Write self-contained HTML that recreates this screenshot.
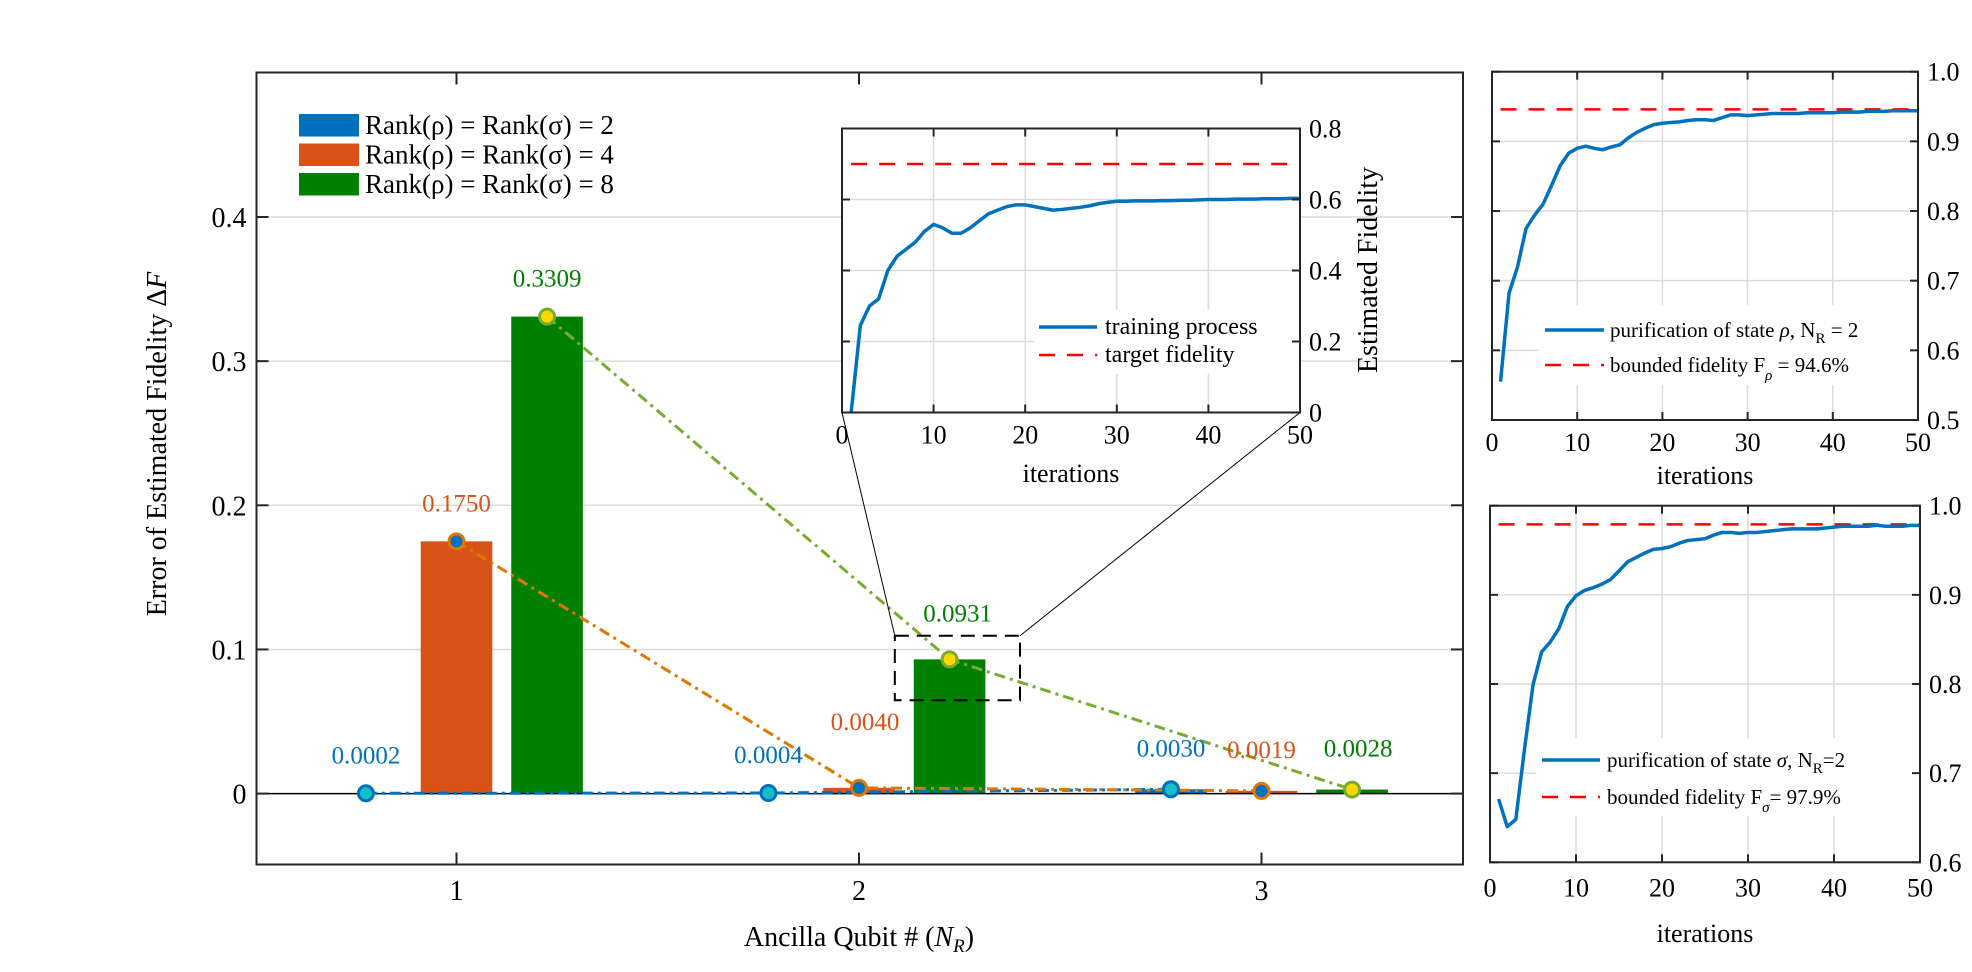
<!DOCTYPE html>
<html><head><meta charset="utf-8"><style>
html,body{margin:0;padding:0;background:#fff;}
svg{display:block;font-family:"Liberation Serif","DejaVu Serif",serif;}
</style></head><body>
<svg id="fig" width="1972" height="972" viewBox="0 0 1972 972" xmlns="http://www.w3.org/2000/svg"></svg>
<script>
// ---------- main chart data ----------
const groups = [1, 2, 3];
const seriesNames = ['Rank(ρ) = Rank(σ) = 2', 'Rank(ρ) = Rank(σ) = 4', 'Rank(ρ) = Rank(σ) = 8'];
const rank2Values = [0.0002, 0.0004, 0.0030];
const rank4Values = [0.1750, 0.0040, 0.0019];
const rank8Values = [0.3309, 0.0931, 0.0028];
const rank2Labels = ['0.0002', '0.0004', '0.0030'];
const rank4Labels = ['0.1750', '0.0040', '0.0019'];
const rank8Labels = ['0.3309', '0.0931', '0.0028'];
const mainYTicks = [0, 0.1, 0.2, 0.3, 0.4];
const mainYTickLabels = ['0', '0.1', '0.2', '0.3', '0.4'];
// ---------- inset (training) ----------
const insetFid = [0,0.245,0.30,0.32,0.40,0.44,0.46,0.48,0.51,0.53,0.52,0.505,0.505,0.52,0.54,0.56,0.57,0.58,0.585,0.585,0.58,0.575,0.57,0.572,0.575,0.578,0.582,0.588,0.592,0.595,0.595,0.596,0.596,0.596,0.597,0.597,0.598,0.598,0.599,0.60,0.60,0.60,0.601,0.601,0.601,0.602,0.602,0.602,0.603,0.603];
const insetTarget = 0.7;
const insetYTicks = [0, 0.2, 0.4, 0.6, 0.8];
const iterTicks = [0, 10, 20, 30, 40, 50];
// ---------- right panels ----------
const rhoFid = [0.555,0.682,0.72,0.775,0.794,0.81,0.837,0.865,0.883,0.89,0.893,0.89,0.888,0.892,0.895,0.905,0.913,0.919,0.924,0.926,0.927,0.928,0.930,0.931,0.931,0.930,0.934,0.938,0.938,0.937,0.938,0.939,0.940,0.940,0.940,0.940,0.941,0.941,0.941,0.941,0.942,0.942,0.942,0.943,0.943,0.943,0.944,0.944,0.944,0.944];
const rhoBound = 0.946;
const rhoYTicks = [0.5, 0.6, 0.7, 0.8, 0.9, 1.0];
const sigmaFid = [0.671,0.640,0.648,0.726,0.799,0.836,0.847,0.862,0.887,0.899,0.905,0.908,0.912,0.917,0.927,0.937,0.942,0.947,0.951,0.952,0.954,0.958,0.961,0.962,0.963,0.967,0.970,0.970,0.969,0.970,0.970,0.971,0.972,0.973,0.974,0.974,0.974,0.974,0.975,0.976,0.977,0.977,0.977,0.977,0.978,0.977,0.977,0.977,0.978,0.978];
const sigmaBound = 0.979;
const sigmaYTicks = [0.6, 0.7, 0.8, 0.9, 1.0];

const NS = 'http://www.w3.org/2000/svg';
const svg = document.getElementById('fig');
function mk(tag, attrs, parent, text) {
  const e = document.createElementNS(NS, tag);
  for (const k in attrs) e.setAttribute(k, attrs[k]);
  if (text !== undefined) e.textContent = text;
  (parent || svg).appendChild(e);
  return e;
}
function grp(name, parent) {
  const g = mk('g', {}, parent);
  
  
  return g;
}
const AX = '#262626', GRID = '#dcdcdc';
const BLUE = '#0072bd', ORANGE = '#d95319', GREEN = '#008000';

// ================= MAIN AXES =================
const mL = 256.5, mR = 1463, mT = 72.5, mB = 864.5;
const mX = v => 456.5 + (v - 1) * 402.5;
const mY = v => 793.6 - v * 1441.5;
const mainG = grp('main-chart');
const gridG = grp('main-gridlines', mainG);
mainYTicks.forEach(t => { if (t > 0) mk('line', {x1: mL, x2: mR, y1: mY(t), y2: mY(t), stroke: GRID, 'stroke-width': 1.5}, gridG); });

const barW = 71.6;
const offs = [-0.225, 0, 0.225];
const allVals = [rank2Values, rank4Values, rank8Values];
const barCols = [BLUE, ORANGE, GREEN];
const barsG = grp('bars', mainG);
allVals.forEach((vals, s) => {
  vals.forEach((v, i) => {
    const cx = mX(groups[i] + offs[s]);
    const r = mk('rect', {x: cx - barW / 2, y: mY(v), width: barW, height: Math.max(mY(0) - mY(v), 0.5), fill: barCols[s]}, barsG);
    
    
  });
});
mk('line', {x1: mL, x2: mR, y1: mY(0), y2: mY(0), stroke: '#000', 'stroke-width': 1.5}, mainG);

const lineCols = [BLUE, '#e07800', '#77ac30'];
const mFill = ['#17bec8', BLUE, '#ffd700'];
const mEdge = [BLUE, '#e07800', '#77ac30'];
const linesG = grp('trend-lines', mainG);
allVals.forEach((vals, s) => {
  const pts = vals.map((v, i) => mX(groups[i] + offs[s]) + ',' + mY(v)).join(' ');
  const pl = mk('polyline', {points: pts, fill: 'none', stroke: lineCols[s], 'stroke-width': 3, 'stroke-dasharray': '11,5,3,5'}, linesG);
  
  
});
const zb = grp('zoom-box', mainG);
const bx1 = mX(2.089), bx2 = mX(2.40), by1 = mY(0.1095), by2 = mY(0.0648);
mk('rect', {x: bx1, y: by1, width: bx2 - bx1, height: by2 - by1, fill: 'none', stroke: '#000', 'stroke-width': 2, 'stroke-dasharray': '14,8'}, zb);
mk('line', {x1: bx1, y1: by1, x2: 842, y2: 412.5, stroke: '#000', 'stroke-width': 1}, zb);
mk('line', {x1: bx2, y1: by1, x2: 1300, y2: 412.5, stroke: '#000', 'stroke-width': 1}, zb);

const markG = grp('markers', mainG);
allVals.forEach((vals, s) => {
  vals.forEach((v, i) => {
    const c = mk('circle', {cx: mX(groups[i] + offs[s]), cy: mY(v), r: 7.5, fill: mFill[s], stroke: mEdge[s], 'stroke-width': 3}, markG);
    
    
  });
});
const allLabels = [rank2Labels, rank4Labels, rank8Labels];
const labCols = [BLUE, ORANGE, GREEN];
const labelG = grp('value-labels', mainG);
allVals.forEach((vals, s) => {
  vals.forEach((v, i) => {
    let dy = 30;
    if (s === 1 && i === 1) dy = 58;
    if (s === 2 && i === 1) dy = 38;
    if (i === 2) dy = 33;
    let cx = mX(groups[i] + offs[s]);
    if (s === 1 && i === 1) cx += 6;
    if (s === 2 && i === 1) cx += 8;
    if (s === 2 && i === 2) cx += 6;
    const t = mk('text', {x: cx, y: mY(v) - dy, 'text-anchor': 'middle', 'font-size': 25, fill: labCols[s]}, labelG, allLabels[s][i]);
    
    
  });
});

mk('rect', {x: mL, y: mT, width: mR - mL, height: mB - mT, fill: 'none', stroke: AX, 'stroke-width': 2}, mainG);
const tickG = grp('main-ticks', mainG);
groups.forEach(g => {
  mk('line', {x1: mX(g), x2: mX(g), y1: mB, y2: mB - 12, stroke: AX, 'stroke-width': 2}, tickG);
  mk('line', {x1: mX(g), x2: mX(g), y1: mT, y2: mT + 12, stroke: AX, 'stroke-width': 2}, tickG);
  const t = mk('text', {x: mX(g), y: 900, 'text-anchor': 'middle', 'font-size': 28, fill: '#000'}, tickG, String(g));
  
  
});
mainYTicks.forEach((tv, i) => {
  mk('line', {x1: mL, x2: mL + 12, y1: mY(tv), y2: mY(tv), stroke: AX, 'stroke-width': 2}, tickG);
  mk('line', {x1: mR, x2: mR - 12, y1: mY(tv), y2: mY(tv), stroke: AX, 'stroke-width': 2}, tickG);
  const t = mk('text', {x: mL - 10, y: mY(tv) + 10, 'text-anchor': 'end', 'font-size': 28, fill: '#000'}, tickG, mainYTickLabels[i]);
  
  
});
const xl = mk('text', {x: 859, y: 946, 'text-anchor': 'middle', 'font-size': 28, fill: '#000'}, mainG);


xl.innerHTML = 'Ancilla Qubit # (<tspan font-style="italic">N</tspan><tspan font-style="italic" font-size="19" dy="6">R</tspan><tspan dy="-6">)</tspan>';
const yl = mk('text', {x: 0, y: 0, transform: 'translate(166,444) rotate(-90)', 'text-anchor': 'middle', 'font-size': 28, fill: '#000'}, mainG);


yl.innerHTML = 'Error of Estimated Fidelity Δ<tspan font-style="italic">F</tspan>';

const legG = grp('legend', mainG);
seriesNames.forEach((n, i) => {
  const y = 114 + i * 29.5;
  const e = grp('legend-entry', legG);
  mk('rect', {x: 299, y: y, width: 60, height: 22.5, fill: barCols[i]}, e);
  mk('text', {x: 365, y: y + 20, 'font-size': 27, fill: '#000'}, e, n);
});

// ================= PANELS =================
function panel(opts) {
  const g = grp(opts.name);
  const {L, R, T, B, y0, y1, data, target, yTicks, yLabels} = opts;
  const X = v => L + v / 50 * (R - L);
  const Y = v => B - (v - y0) / (y1 - y0) * (B - T);
  mk('rect', {x: L, y: T, width: R - L, height: B - T, fill: '#fff'}, g);
  const gg = grp(opts.name + '-gridlines', g);
  iterTicks.forEach(t => { if (t > 0 && t < 50) mk('line', {x1: X(t), x2: X(t), y1: T, y2: B, stroke: GRID, 'stroke-width': 1.5}, gg); });
  yTicks.forEach(t => { if (t > y0 && t < y1) mk('line', {x1: L, x2: R, y1: Y(t), y2: Y(t), stroke: GRID, 'stroke-width': 1.5}, gg); });
  const tl = mk('line', {x1: X(1), x2: R, y1: Y(target), y2: Y(target), stroke: '#ff0000', 'stroke-width': 2.5, 'stroke-dasharray': '16,12'}, g);
  
  
  const pts = data.map((v, i) => X(i + 1) + ',' + Y(Math.max(v, y0))).join(' ');
  const pl = mk('polyline', {points: pts, fill: 'none', stroke: BLUE, 'stroke-width': 3.5, 'stroke-linejoin': 'round'}, g);
  
  
  const lg = grp(opts.name + '-legend', g);
  const [lx, ly, lw, lh] = opts.legBox;
  mk('rect', {x: lx, y: ly, width: lw, height: lh, fill: '#fff'}, lg);
  const e1 = grp('legend-entry', lg);
  mk('line', {x1: opts.legLine[0], x2: opts.legLine[1], y1: opts.legRows[0], y2: opts.legRows[0], stroke: BLUE, 'stroke-width': 3.5}, e1);
  const t1 = mk('text', {x: opts.legText, y: opts.legRows[0] + 7, 'font-size': opts.legFont, fill: '#000'}, e1);
  t1.innerHTML = opts.leg1;
  const e2 = grp('legend-entry', lg);
  mk('line', {x1: opts.legLine[0], x2: opts.legLine[1], y1: opts.legRows[1], y2: opts.legRows[1], stroke: '#ff0000', 'stroke-width': 2.5, 'stroke-dasharray': '16,12'}, e2);
  const t2 = mk('text', {x: opts.legText, y: opts.legRows[1] + 7, 'font-size': opts.legFont, fill: '#000'}, e2);
  t2.innerHTML = opts.leg2;
  mk('rect', {x: L, y: T, width: R - L, height: B - T, fill: 'none', stroke: AX, 'stroke-width': 2}, g);
  iterTicks.forEach(t => {
    mk('line', {x1: X(t), x2: X(t), y1: B, y2: B - 8, stroke: AX, 'stroke-width': 2}, g);
    mk('line', {x1: X(t), x2: X(t), y1: T, y2: T + 8, stroke: AX, 'stroke-width': 2}, g);
    const tt = mk('text', {x: X(t), y: B + opts.xTickDy, 'text-anchor': 'middle', 'font-size': 26, fill: '#000'}, g, String(t));
    
    
  });
  yTicks.forEach((t, i) => {
    mk('line', {x1: L, x2: L + 8, y1: Y(t), y2: Y(t), stroke: AX, 'stroke-width': 2}, g);
    mk('line', {x1: R, x2: R - 8, y1: Y(t), y2: Y(t), stroke: AX, 'stroke-width': 2}, g);
    const tt = mk('text', {x: R + 9, y: Y(t) + 9, 'font-size': 26, fill: '#000'}, g, yLabels[i]);
    
    
  });
  const xt = mk('text', {x: (L + R) / 2, y: opts.xTitleY, 'text-anchor': 'middle', 'font-size': 26, fill: '#000'}, g, 'iterations');
  
  
  return g;
}

panel({name: 'inset-training', L: 842, R: 1300, T: 128.5, B: 412.5, y0: 0, y1: 0.8, data: insetFid, target: insetTarget,
  yTicks: insetYTicks, yLabels: ['0', '0.2', '0.4', '0.6', '0.8'], xTickDy: 31, xTitleY: 482,
  legBox: [1034, 310, 262, 64], legLine: [1039, 1097], legRows: [327, 355], legText: 1105, legFont: 24,
  leg1: 'training process', leg2: 'target fidelity'});
const ef = mk('text', {x: 0, y: 0, transform: 'translate(1377,270) rotate(-90)', 'text-anchor': 'middle', 'font-size': 28, fill: '#000'}, svg, 'Estimated Fidelity');



panel({name: 'panel-rho', L: 1492, R: 1918, T: 71.7, B: 420, y0: 0.5, y1: 1.0, data: rhoFid, target: rhoBound,
  yTicks: rhoYTicks, yLabels: ['0.5', '0.6', '0.7', '0.8', '0.9', '1.0'], xTickDy: 31, xTitleY: 484,
  legBox: [1538, 305, 372, 80], legLine: [1545, 1604], legRows: [330, 365], legText: 1610, legFont: 21,
  leg1: 'purification of state <tspan font-style="italic">ρ</tspan>, N<tspan font-size="15" dy="6">R</tspan><tspan dy="-6"> = 2</tspan>',
  leg2: 'bounded fidelity F<tspan font-size="15" font-style="italic" dy="8">ρ</tspan><tspan dy="-8"> = 94.6%</tspan>'});

panel({name: 'panel-sigma', L: 1490, R: 1920, T: 505.7, B: 862.3, y0: 0.6, y1: 1.0, data: sigmaFid, target: sigmaBound,
  yTicks: sigmaYTicks, yLabels: ['0.6', '0.7', '0.8', '0.9', '1.0'], xTickDy: 34, xTitleY: 942,
  legBox: [1536, 738, 380, 78], legLine: [1542, 1600], legRows: [760, 797], legText: 1607, legFont: 21,
  leg1: 'purification of state <tspan font-style="italic">σ</tspan>, N<tspan font-size="15" dy="6">R</tspan><tspan dy="-6">=2</tspan>',
  leg2: 'bounded fidelity F<tspan font-size="15" font-style="italic" dy="8">σ</tspan><tspan dy="-8">= 97.9%</tspan>'});
</script>
</body></html>
